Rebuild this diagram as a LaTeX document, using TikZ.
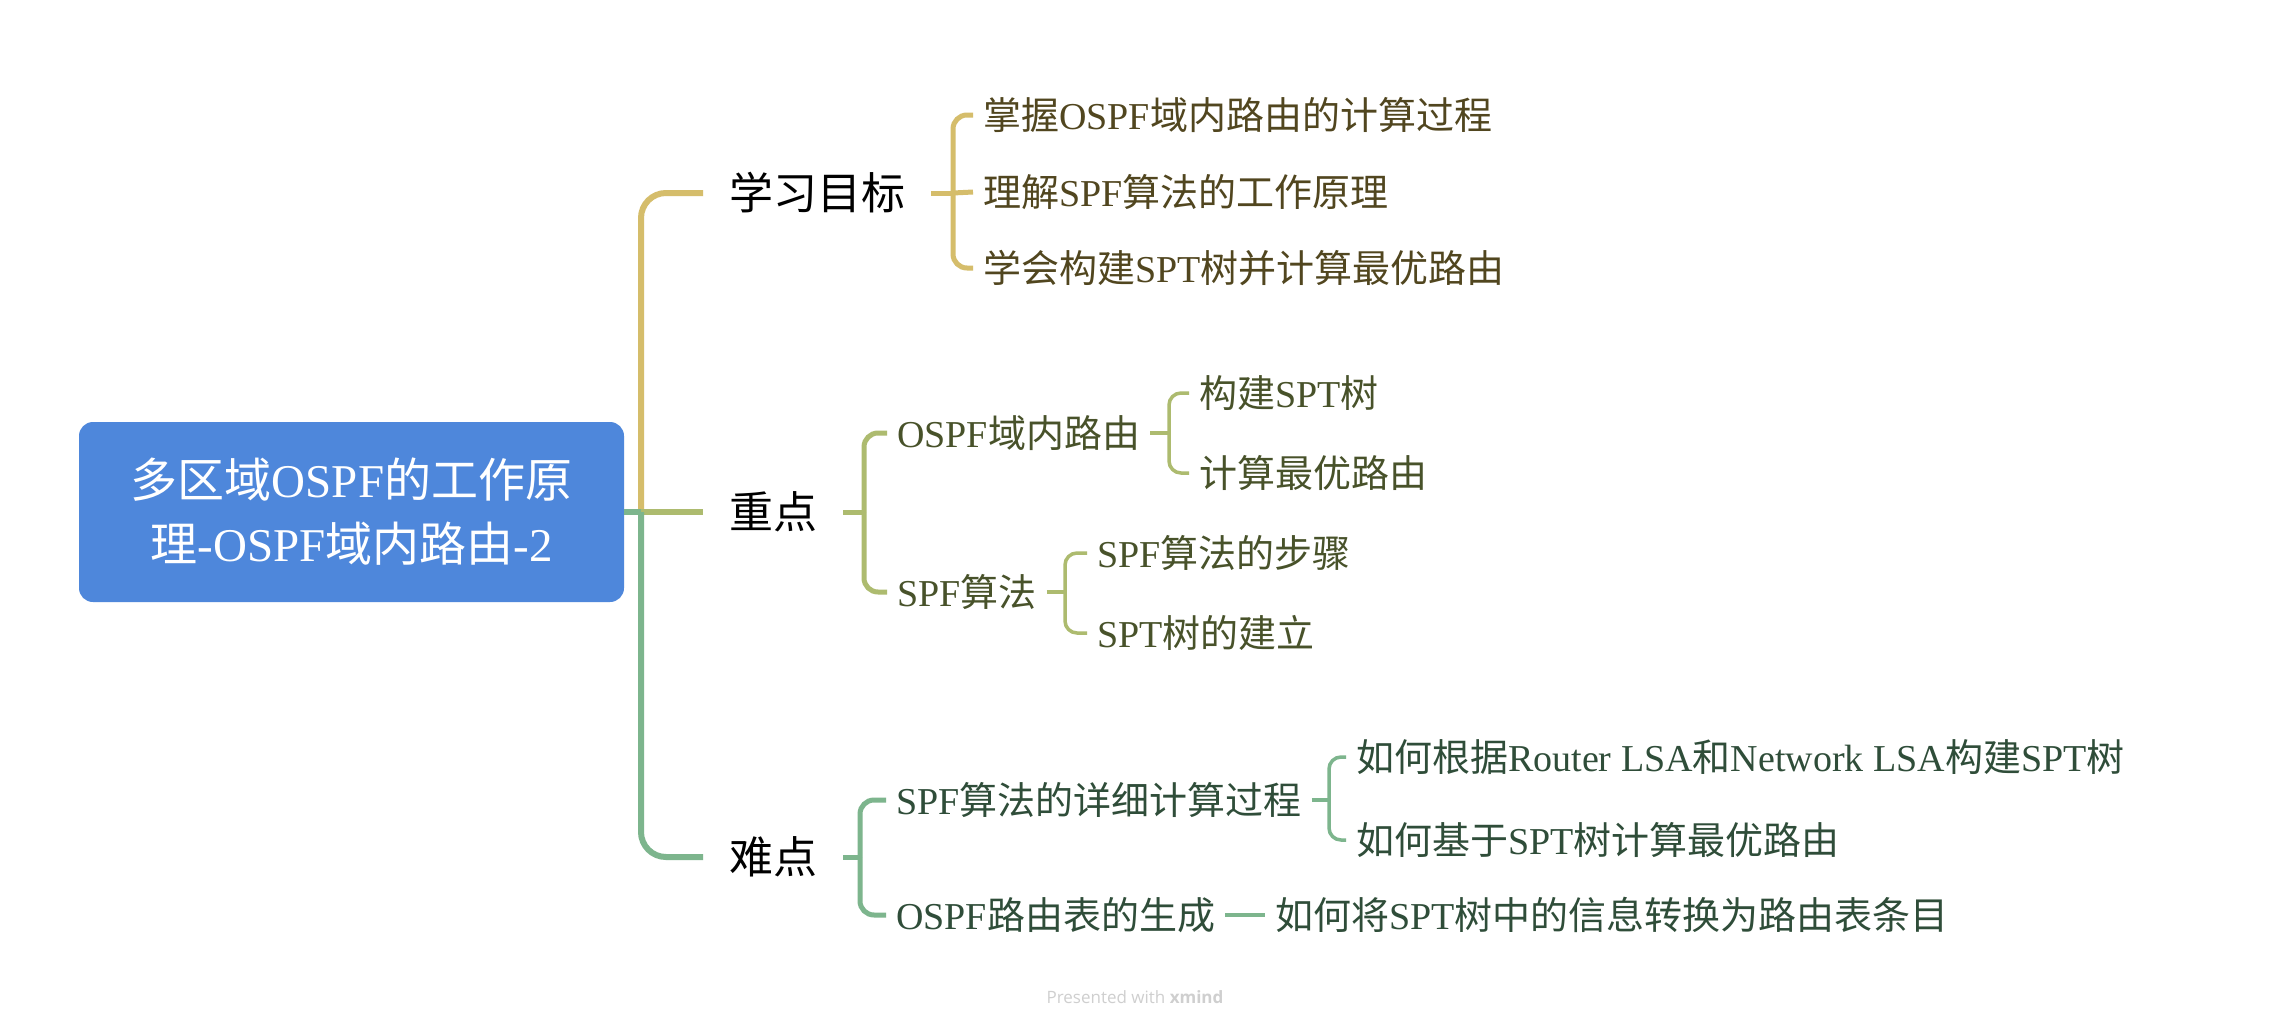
\documentclass[tikz,border=0pt]{standalone}
\usepackage{fontspec}
\setmainfont{Liberation Serif}
\newfontfamily\cjk{Noto Sans CJK SC}
\newfontfamily\wmfont{Open Sans}
\newcommand\zh[1]{{\cjk#1}}
\definecolor{rootblue}{HTML}{4E87DB}
\definecolor{cA}{HTML}{D5BD6B}
\definecolor{cB}{HTML}{ADBB6F}
\definecolor{cC}{HTML}{7DB58D}
\definecolor{tA}{HTML}{51461F}
\definecolor{tB}{HTML}{48522A}
\definecolor{tC}{HTML}{2F4D39}
\definecolor{wm}{HTML}{CFCFCF}
\begin{document}
\begin{tikzpicture}[x=1pt,y=-1pt,
  rootbox/.style={fill=rootblue, rounded corners=14pt, text=white, align=center,
    minimum width=545pt, minimum height=180pt, inner sep=0pt,
    font=\fontsize{47}{64}\selectfont},
  lone/.style={anchor=west, inner xsep=26pt, inner ysep=0pt, text height=38.7pt,
    text depth=5.3pt, font=\cjk\fontsize{44}{50}\selectfont, text=black},
  ltwo/.style={anchor=west, inner xsep=10pt, inner ysep=0pt, text height=33.4pt,
    text depth=4.6pt, font=\fontsize{38}{46}\selectfont},
  trunk/.style={line width=6pt},
  brone/.style={line width=5pt, rounded corners=14pt},
  brtwo/.style={line width=3.5pt, rounded corners=12pt},
]
\useasboundingbox (0,0) rectangle (2270,1028);
\fill[white] (0,0) rectangle (2270,1028);

% root
\node[rootbox] (root) at (351.5,512) {\zh{多区域}OSPF\zh{的工作原}\\\zh{理}-OSPF\zh{域内路由}-2};
\coordinate (tr) at (641,512);

% level 1
\node[lone] (goal) at (703,193) {学习目标};
\node[lone] (key) at (703,512) {重点};
\node[lone] (hard) at (703,857) {难点};

% level 2/3 : goals
\node[ltwo, text=tA] (g1) at (973,115) {\zh{掌握}OSPF\zh{域内路由的计算过程}};
\node[ltwo, text=tA] (g2) at (973,192) {\zh{理解}SPF\zh{算法的工作原理}};
\node[ltwo, text=tA] (g3) at (973,268) {\zh{学会构建}SPT\zh{树并计算最优路由}};

% key points
\node[ltwo, text=tB] (k1) at (887,433) {OSPF\zh{域内路由}};
\node[ltwo, text=tB] (k2) at (887,592) {SPF\zh{算法}};
\node[ltwo, text=tB] (k11) at (1189,393) {\zh{构建}SPT\zh{树}};
\node[ltwo, text=tB] (k12) at (1189,473) {\zh{计算最优路由}};
\node[ltwo, text=tB] (k21) at (1087,553) {SPF\zh{算法的步骤}};
\node[ltwo, text=tB] (k22) at (1087,633) {SPT\zh{树的建立}};

% difficulties
\node[ltwo, text=tC] (h1) at (886,800) {SPF\zh{算法的详细计算过程}};
\node[ltwo, text=tC] (h2) at (886,915) {OSPF\zh{路由表的生成}};
\node[ltwo, text=tC] (h11) at (1346,757) {\zh{如何根据}Router LSA\zh{和}Network LSA\zh{构建}SPT\zh{树}};
\node[ltwo, text=tC] (h12) at (1346,840) {\zh{如何基于}SPT\zh{树计算最优路由}};
\node[ltwo, text=tC] (h21) at (1265,915) {\zh{如何将}SPT\zh{树中的信息转换为路由表条目}};

% junctions
\coordinate (jg) at (953,193);
\coordinate (jk) at (864,512);
\coordinate (jh) at (860,857);
\coordinate (jk1) at (1169,433);
\coordinate (jk2) at (1065,592);
\coordinate (jh1) at (1329,800);

% trunk
\draw[trunk, cA, rounded corners=25pt] (tr) |- (goal.west);
\draw[trunk, cB] (root.east) -- (key.west);
\draw[trunk, cC, rounded corners=25pt] (tr) |- (hard.west);
\draw[trunk, cC] (root.east) -- (tr);

% goal bracket
\draw[brone, cA] (goal.east) -- (jg);
\draw[brone, cA] (jg) |- (g1.west);
\draw[brone, cA] (jg) -- (g2.west);
\draw[brone, cA] (jg) |- (g3.west);

% key brackets
\draw[brone, cB] (key.east) -- (jk);
\draw[brone, cB] (jk) |- (k1.west);
\draw[brone, cB] (jk) |- (k2.west);
\draw[brtwo, cB] (k1.east) -- (jk1);
\draw[brtwo, cB] (jk1) |- (k11.west);
\draw[brtwo, cB] (jk1) |- (k12.west);
\draw[brtwo, cB] (k2.east) -- (jk2);
\draw[brtwo, cB] (jk2) |- (k21.west);
\draw[brtwo, cB] (jk2) |- (k22.west);

% hard brackets
\draw[brone, cC] (hard.east) -- (jh);
\draw[brone, cC] (jh) |- (h1.west);
\draw[brone, cC] (jh) |- (h2.west);
\draw[brtwo, cC] (h1.east) -- (jh1);
\draw[brtwo, cC] (jh1) |- (h11.west);
\draw[brtwo, cC] (jh1) |- (h12.west);
\draw[brtwo, cC] (h2.east) -- (h21.west);

% watermark
\node[text=wm, font=\wmfont\fontsize{17}{20}\selectfont, inner sep=0pt] (wmk) at (1135,997) {Presented with \textbf{xmind}};
\end{tikzpicture}
\end{document}
